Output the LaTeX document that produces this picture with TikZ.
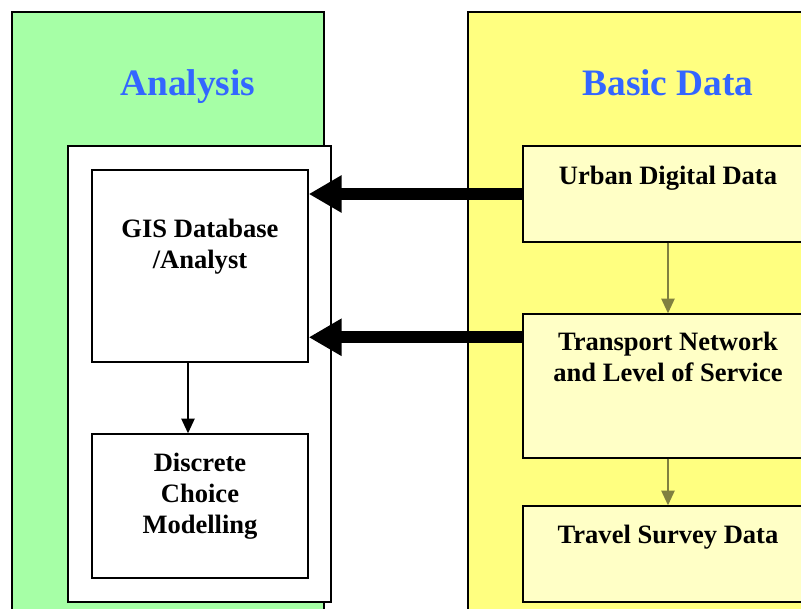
\documentclass[tikz,border=0pt]{standalone}
\usepackage{fontspec}
\setmainfont{Liberation Serif}
\usetikzlibrary{arrows.meta,calc}
\definecolor{panelgreen}{HTML}{A6FFA6}
\definecolor{panelyellow}{HTML}{FFFF80}
\definecolor{boxyellow}{HTML}{FFFFC6}
\definecolor{titleblue}{HTML}{3366FF}
\definecolor{olive}{HTML}{808040}
\begin{document}
\begin{tikzpicture}[x=0.75pt,y=-0.75pt,
  panel/.style={draw=black,line width=1.5pt,inner sep=0pt},
  box/.style={draw=black,line width=1.1pt,inner sep=0pt},
  boxtext/.style={font=\bfseries\fontsize{19.9}{23.25}\selectfont,align=center,anchor=base,inner sep=0pt},
  title/.style={font=\bfseries\fontsize{28}{32}\selectfont,text=titleblue,anchor=base,inner sep=0pt},
  bigarrow/.style={line width=9pt,-{Triangle[length=24.75pt,width=26.5pt]}},
  smallarrow/.style={line width=1.1pt,-{Triangle[length=11pt,width=10pt]}}
]
\useasboundingbox (0,0) rectangle (801,608);
\clip (0,0) rectangle (801,608);
% panels
\node[panel,fill=panelgreen,minimum width=312*0.75pt,minimum height=628*0.75pt] (green) at (168,326) {};
\node[panel,fill=panelyellow,minimum width=400*0.75pt,minimum height=628*0.75pt] (yellow) at (668,326) {};
\node[title] (tA) at (188,95) {Analysis};
\node[title] (tB) at (668,95) {Basic Data};
% analysis boxes
\node[box,fill=white,minimum width=263*0.75pt,minimum height=456*0.75pt] (wbox) at (199.5,374) {};
\node[box,fill=white,minimum width=216*0.75pt,minimum height=192*0.75pt] (gis) at (200,266) {};
\node[box,fill=white,minimum width=216*0.75pt,minimum height=144*0.75pt] (dcm) at (200,506) {};
% basic data boxes
\node[box,fill=boxyellow,minimum width=290*0.75pt,minimum height=96*0.75pt] (urban) at (668,194) {};
\node[box,fill=boxyellow,minimum width=290*0.75pt,minimum height=144*0.75pt] (trans) at (668,386) {};
\node[box,fill=boxyellow,minimum width=290*0.75pt,minimum height=96*0.75pt] (travel) at (668,554) {};
% texts (anchor base = last line baseline)
\node[boxtext] (gisT) at (200,268) {GIS Database\\/Analyst};
\node[boxtext] (dcmT) at (200,533) {Discrete\\Choice\\Modelling};
\node[boxtext] (urbanT) at (668,184) {Urban Digital Data};
\node[boxtext] (transT) at (668,381) {Transport Network\\and Level of Service};
\node[boxtext] (travelT) at (668,543) {Travel Survey Data};
% connectors
\draw[smallarrow] (gis.south -| 188,0) -- (dcm.north -| 188,0);
\draw[smallarrow,draw=olive,fill=olive] (urban.south) -- (trans.north);
\draw[smallarrow,draw=olive,fill=olive] (trans.south) -- (travel.north);
\coordinate (u1) at (urban.west);
\coordinate (t1) at ($(trans.north west)+(0,24)$);
\draw[bigarrow] (u1) -- (u1 -| gis.east);
\draw[bigarrow] (t1) -- (t1 -| gis.east);
\end{tikzpicture}
\end{document}
